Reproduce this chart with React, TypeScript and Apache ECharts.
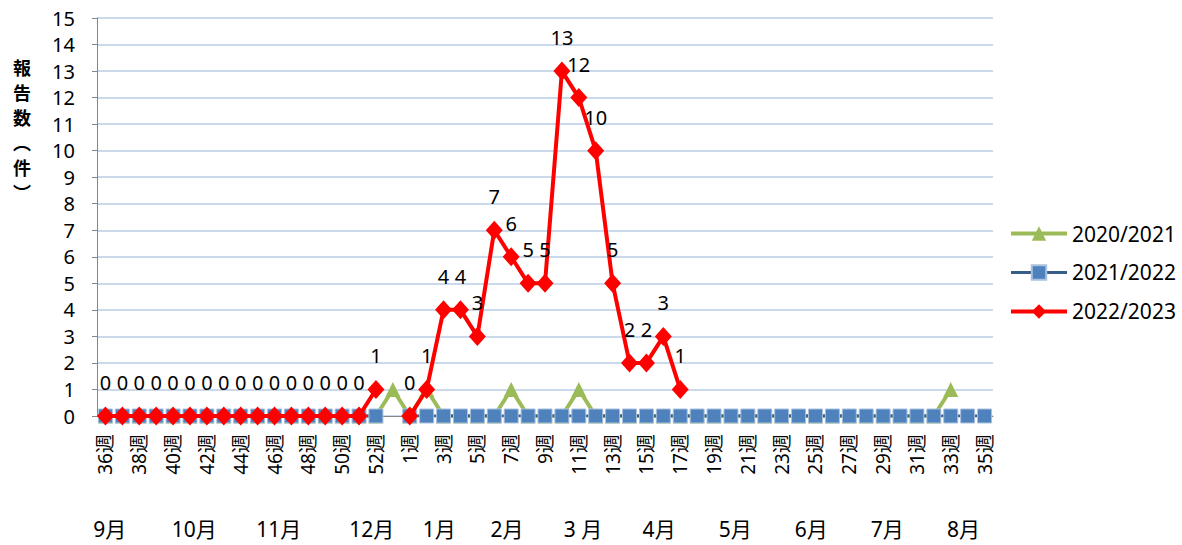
import React, { useEffect, useRef } from "react";
import * as echarts from "echarts";

const weeks: string[] = [
  "36週","37週","38週","39週","40週","41週","42週","43週","44週","45週","46週","47週","48週","49週","50週","51週","52週","53週",
  "1週","2週","3週","4週","5週","6週","7週","8週","9週","10週","11週","12週","13週","14週","15週","16週","17週","18週",
  "19週","20週","21週","22週","23週","24週","25週","26週","27週","28週","29週","30週","31週","32週","33週","34週","35週",
];

const s2020: (number | null)[] = [
  0,0,0,0,0,0,0,0,0,0,0,0,0,0,0,0,0,1,
  0,1,0,0,0,0,1,0,0,0,1,0,0,0,0,0,0,0,
  0,0,0,0,0,0,0,0,0,0,0,0,0,0,1,null,null,
];

const s2021: (number | null)[] = [
  0,0,0,0,0,0,0,0,0,0,0,0,0,0,0,0,0,null,
  0,0,0,0,0,0,0,0,0,0,0,0,0,0,0,0,0,0,
  0,0,0,0,0,0,0,0,0,0,0,0,0,0,0,0,0,
];

const s2022: (number | null)[] = [
  0,0,0,0,0,0,0,0,0,0,0,0,0,0,0,0,1,null,
  0,1,4,4,3,7,6,5,5,13,12,10,5,2,2,3,1,null,
  null,null,null,null,null,null,null,null,null,null,null,null,null,null,null,null,null,
];

const monthLabels: string[] = ["9月","10月","11月","12月","1月","2月","3 月","4月","5月","6月","7月","8月"];

// layout: slot of each month label on a half-week grid under the axis
const monthLabelSlots: number[] = [1, 11, 21, 32, 40, 48, 57, 66, 75, 84, 93, 102];

const seriesNames: string[] = ["2020/2021", "2021/2022", "2022/2023"];
const yAxisTitleChars: string[] = ["報", "告", "数", "︵", "件", "︶"];

const FONT = "'Noto Sans', 'Noto Sans CJK JP', sans-serif";

export default function App() {
  const ref = useRef<HTMLDivElement>(null);
  useEffect(() => {
    if (!ref.current) return;
    const chart = echarts.init(ref.current, undefined, { renderer: "svg" });
    const monthAxisData: string[] = [];
    for (let j = 0; j < weeks.length * 2; j++) {
      const k = monthLabelSlots.indexOf(j);
      monthAxisData.push(k >= 0 ? monthLabels[k] : "");
    }
    chart.setOption({
      animation: false,
      backgroundColor: "#ffffff",
      grid: { left: 97, right: 189, top: 18, bottom: 129, containLabel: false },
      legend: {
        orient: "vertical",
        left: 1004,
        top: 218,
        itemGap: 18,
        itemWidth: 56,
        itemHeight: 18,
        lineStyle: { width: "inherit" },
        textStyle: { fontSize: 21, color: "#000", fontFamily: FONT },
        data: seriesNames,
      },
      graphic: yAxisTitleChars.map((c, i) => ({
        type: "text",
        x: 22,
        y: 58 + i * 25,
        style: {
          text: c,
          font: "bold 18px 'Noto Sans CJK JP', sans-serif",
          fill: "#000",
          align: "center",
          verticalAlign: "top",
        },
      })),
      xAxis: [
        {
          type: "category",
          data: weeks,
          boundaryGap: true,
          axisLine: { lineStyle: { color: "#868686", width: 1 } },
          axisTick: { show: false },
          axisLabel: {
            interval: 1,
            rotate: 90,
            fontSize: 19,
            color: "#000",
            margin: 18,
            fontFamily: FONT,
          },
        },
        {
          type: "category",
          data: monthAxisData,
          position: "bottom",
          offset: 100,
          boundaryGap: true,
          axisLine: { show: false },
          axisTick: { show: false },
          axisLabel: { interval: 0, fontSize: 21, color: "#000", margin: 2, fontFamily: FONT },
        },
      ],
      yAxis: {
        type: "value",
        min: 0,
        max: 15,
        interval: 1,
        axisLine: { show: true, lineStyle: { color: "#868686", width: 1 } },
        axisTick: { show: true, length: 5, lineStyle: { color: "#868686" } },
        axisLabel: { fontSize: 20, color: "#000", margin: 22, fontFamily: FONT },
        splitLine: { lineStyle: { color: "#b9cde5", width: 1.5 } },
      },
      series: [
        {
          name: seriesNames[0],
          type: "line",
          data: s2020,
          symbol: "triangle",
          symbolSize: [15, 15],
          showAllSymbol: true,
          itemStyle: { color: "#9bbb59" },
          lineStyle: { color: "#9bbb59", width: 4 },
          z: 2,
        },
        {
          name: seriesNames[1],
          type: "line",
          data: s2021,
          symbol: "rect",
          symbolSize: 14,
          showAllSymbol: true,
          itemStyle: { color: "#4f81bd", borderColor: "#a9c1e0", borderWidth: 1 },
          lineStyle: { color: "#385d8a", width: 3 },
          z: 3,
        },
        {
          name: seriesNames[2],
          type: "line",
          data: s2022,
          symbol: "diamond",
          symbolSize: [17, 19],
          showAllSymbol: true,
          itemStyle: { color: "#ff0000" },
          lineStyle: { color: "#ff0000", width: 4 },
          label: {
            show: true,
            position: "top",
            distance: 14,
            fontSize: 20,
            color: "#000",
            fontFamily: FONT,
          },
          z: 4,
        },
      ],
    });
    return () => chart.dispose();
  }, []);
  return <div ref={ref} style={{ position: "fixed", left: 0, top: 0, width: 1182, height: 545 }} />;
}
